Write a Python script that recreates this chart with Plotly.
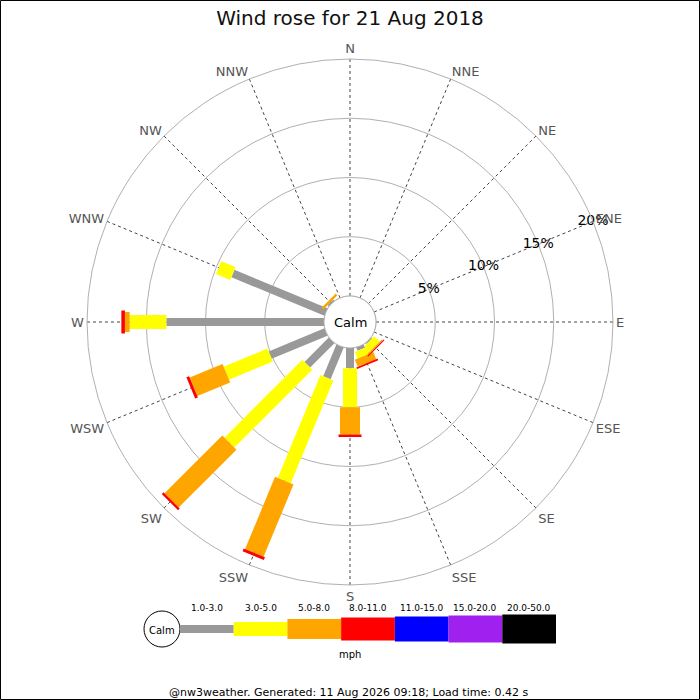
import plotly.graph_objects as go

# Direcciones y valores (% del tiempo) por banda de velocidad
directions = ['N', 'NNE', 'NE', 'ENE', 'E', 'ESE', 'SE', 'SSE',
              'S', 'SSW', 'SW', 'WSW', 'W', 'WNW', 'NW', 'NNW']
angles = [i * 22.5 for i in range(16)]

band_labels = ['1.0-3.0', '3.0-5.0', '5.0-8.0', '8.0-11.0',
               '11.0-15.0', '15.0-20.0', '20.0-50.0']
band_colors = ['#999999', '#ffff00', '#ffa500', '#ff0000',
               '#0000ff', '#a020f0', '#000000']
band_widths = [8, 14, 20, 23, 25, 27, 29]

speed_1_3 = [0, 0, 0, 0, 0, 0, 0.1, 0.3, 1.7, 2.9, 2.9, 5.1, 13.3, 8.5, 0.15, 0]
speed_3_5 = [0, 0, 0, 0, 0, 0, 0.65, 0.6, 3.3, 9.4, 9.3, 4.0, 3.1, 1.3, 0, 0]
speed_5_8 = [0, 0, 0, 0, 0, 0, 0.1, 0.65, 2.3, 6.6, 6.9, 3.0, 0.4, 0, 0.2, 0]
speed_8_11 = [0, 0, 0, 0, 0, 0, 0.1, 0.15, 0.2, 0.25, 0.2, 0.25, 0.3, 0, 0, 0]
bands = [speed_1_3, speed_3_5, speed_5_8, speed_8_11]

ring_values = [5, 10, 15, 20]
ring_labels = ['5%', '10%', '15%', '20%']

title_text = 'Wind rose for 21 Aug 2018'
footer_text = '@nw3weather. Generated: 11 Aug 2026 09:18; Load time: 0.42 s'

FONT = 'DejaVu Sans'

fig = go.Figure()

# Borde del círculo de calma
fig.add_trace(go.Scatterpolar(
    r=[0] * 361, theta=list(range(361)), mode='lines',
    line=dict(color='#bbbbbb', width=1), hoverinfo='skip', showlegend=False))

# Barras: cada banda es un segmento entre acumulados
base = [0.0] * 16
for k, vals in enumerate(bands):
    rr, tt = [], []
    for i in range(16):
        if vals[i] > 0:
            rr += [base[i], base[i] + vals[i], None]
            tt += [angles[i], angles[i], None]
        base[i] += vals[i]
    fig.add_trace(go.Scatterpolar(
        r=rr, theta=tt, mode='lines', connectgaps=False,
        line=dict(color=band_colors[k], width=band_widths[k]),
        name=band_labels[k], showlegend=False))

# Etiquetas de los anillos
fig.add_trace(go.Scatterpolar(
    r=ring_values, theta=[67.5] * 4, mode='text', text=ring_labels,
    textposition='middle center',
    textfont=dict(family=FONT, size=14, color='black'),
    hoverinfo='skip', showlegend=False))

fig.update_layout(
    width=700, height=700,
    margin=dict(l=0, r=0, t=0, b=0),
    paper_bgcolor='white',
    font=dict(family=FONT),
    title=dict(text=title_text, x=0.5, xanchor='center', y=0.974, yanchor='middle',
               font=dict(family=FONT, size=20, color='#111111')),
    polar=dict(
        domain=dict(x=[87 / 700, 613 / 700], y=[1 - 585 / 700, 1 - 59 / 700]),
        hole=0.099,
        bgcolor='white',
        radialaxis=dict(range=[0, 20], tickvals=ring_values, showticklabels=False,
                        ticks='', showline=False, gridcolor='#b0b0b0', gridwidth=1),
        angularaxis=dict(rotation=90, direction='clockwise', tickmode='array',
                         tickvals=angles, ticktext=directions, ticks='',
                         showline=True, linecolor='#b0b0b0', linewidth=1,
                         gridcolor='#444444', griddash='dot', gridwidth=1,
                         tickfont=dict(family=FONT, size=13, color='#555555')),
    ),
)


def label(text, x, y, size=11):
    fig.add_annotation(text=text, x=x / 700, y=1 - y / 700, xref='paper', yref='paper',
                       xanchor='center', yanchor='middle', showarrow=False,
                       font=dict(family=FONT, size=size, color='black'))


# Texto "Calm" en el centro
label('Calm', 350, 322, 13)

# Leyenda de velocidades
leg_y = 1 - 629 / 700
fig.add_shape(type='circle', xref='paper', yref='paper',
              x0=144 / 700, x1=180 / 700, y0=leg_y - 18 / 700, y1=leg_y + 18 / 700,
              line=dict(color='black', width=1), fillcolor='white')
label('Calm', 162, 630, 10)
seg = (556 - 180) / 7
for k, lab in enumerate(band_labels):
    x0 = 180 + k * seg
    h = band_widths[k] / 2
    fig.add_shape(type='rect', xref='paper', yref='paper',
                  x0=x0 / 700, x1=(x0 + seg) / 700,
                  y0=leg_y - h / 700, y1=leg_y + h / 700,
                  line=dict(width=0), fillcolor=band_colors[k])
    label(lab, x0 + seg / 2, 608, 9)
label('mph', 350, 654, 10)

# Pie de página
label(footer_text, 348, 692, 11)

# Marco
fig.add_shape(type='rect', xref='paper', yref='paper', x0=0.0007, x1=0.9993, y0=0.0007, y1=0.9993,
              line=dict(color='black', width=1))

fig.write_html('out.html', config={'displayModeBar': False},
               post_script="document.body.style.margin='0';")
